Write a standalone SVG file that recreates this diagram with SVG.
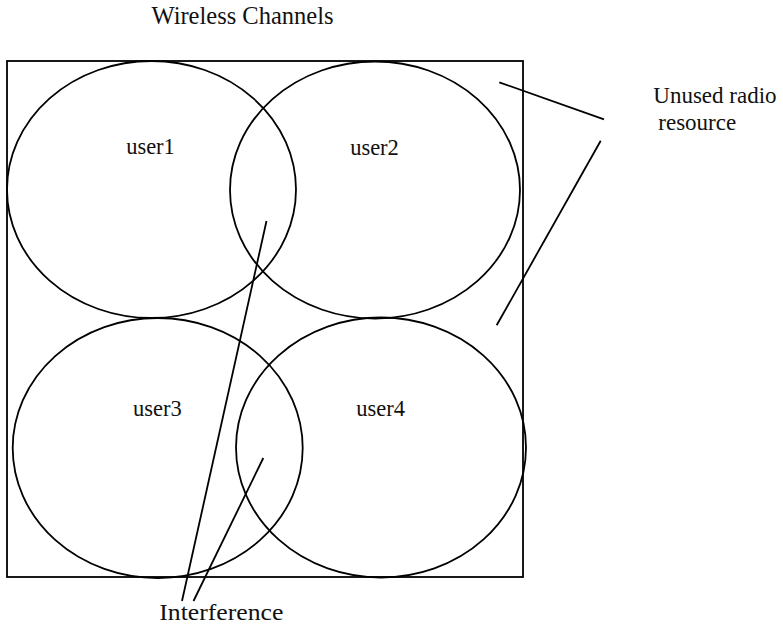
<svg xmlns="http://www.w3.org/2000/svg" width="783" height="625" viewBox="0 0 783 625">
  <style>
    .shape { fill: none; stroke: #000; stroke-width: 1.8; }
    .lead { stroke: #000; stroke-width: 1.8; fill: none; }
    .txt { font-family: "Liberation Serif", "Times New Roman", serif; fill: #111; }
  </style>
  <rect width="783" height="625" fill="#fff"/>

  <text class="txt" x="151.5" y="24" font-size="24.5">Wireless Channels</text>

  <g id="channel-frame">
    <rect class="shape" x="7" y="61" width="516" height="516"/>
  </g>

  <g id="user1">
    <ellipse class="shape" cx="151.5" cy="189.5" rx="144.5" ry="128.5"/>
    <text class="txt" x="150.5" y="154" font-size="22.5" text-anchor="middle">user1</text>
  </g>
  <g id="user2">
    <ellipse class="shape" cx="375" cy="190" rx="145" ry="128.5"/>
    <text class="txt" x="374.5" y="155" font-size="22.5" text-anchor="middle">user2</text>
  </g>
  <g id="user3">
    <ellipse class="shape" cx="157.7" cy="448" rx="145" ry="130"/>
    <text class="txt" x="157.3" y="415.5" font-size="22.5" text-anchor="middle">user3</text>
  </g>
  <g id="user4">
    <ellipse class="shape" cx="381" cy="447.5" rx="145" ry="130"/>
    <text class="txt" x="380.7" y="415.5" font-size="22.5" text-anchor="middle">user4</text>
  </g>

  <g id="unused-label">
    <text class="txt" x="653.3" y="103" font-size="23">Unused radio</text>
    <text class="txt" x="658.3" y="129.5" font-size="23">resource</text>
  </g>
  <g id="interference-label">
    <text class="txt" x="159.3" y="620" font-size="24" textLength="124" lengthAdjust="spacingAndGlyphs">Interference</text>
  </g>

  <g id="connectors">
    <line class="lead" x1="499.3" y1="82.3" x2="604" y2="119.3"/>
    <line class="lead" x1="600.7" y1="140.7" x2="496.7" y2="325.3"/>
    <line class="lead" x1="266.5" y1="221" x2="182" y2="601"/>
    <line class="lead" x1="263.3" y1="458" x2="193.5" y2="601"/>
  </g>
</svg>
